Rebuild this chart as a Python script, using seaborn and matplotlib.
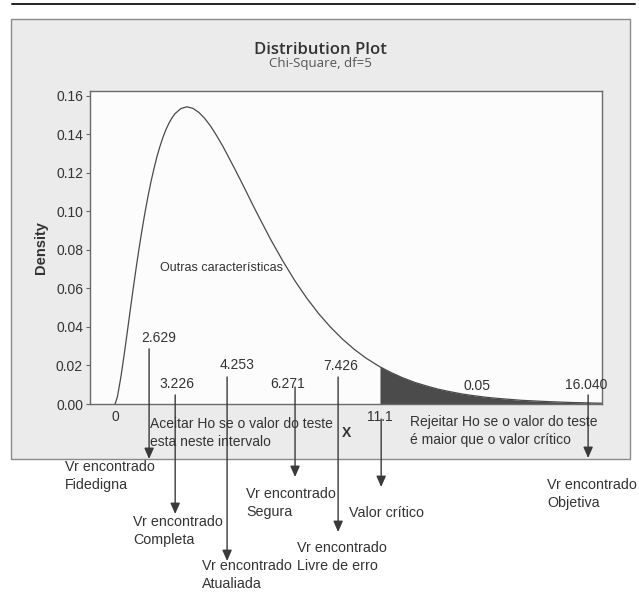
import matplotlib
matplotlib.use('Agg')
import matplotlib.pyplot as plt
import pandas as pd
import seaborn as sns
from matplotlib.patches import Rectangle
from matplotlib.lines import Line2D

# Chi-square (df=5) density
chi_x = [0, 0.1, 0.25, 0.4, 0.5, 0.6, 0.75, 0.9, 1, 1.125, 1.25, 1.375, 1.5, 1.625, 1.75,
         1.875, 2, 2.125, 2.25, 2.375, 2.5, 2.75, 3, 3.25, 3.5, 3.75, 4, 4.25, 4.5, 5,
         5.25, 5.5, 5.75, 6, 6.5, 7, 7.5, 8, 8.5, 9, 9.5, 10, 10.5, 11, 11.07, 11.5, 12,
         12.5, 13, 13.5, 14, 14.5, 15, 15.5, 16, 17, 18, 19, 20, 20.35]
density = [0, 0.0040, 0.0147, 0.0275, 0.0366, 0.0458, 0.0594, 0.0724, 0.0807, 0.0904,
           0.0995, 0.1078, 0.1154, 0.1222, 0.1284, 0.1337, 0.1384, 0.1424, 0.1457, 0.1484,
           0.1506, 0.1533, 0.1542, 0.1534, 0.1513, 0.1481, 0.1440, 0.1391, 0.1338, 0.1220,
           0.1159, 0.1097, 0.1034, 0.0973, 0.0854, 0.0744, 0.0642, 0.0551, 0.0470, 0.0399,
           0.0337, 0.0283, 0.0237, 0.0198, 0.0193, 0.0165, 0.0137, 0.0113, 0.0094, 0.0077,
           0.0064, 0.0052, 0.0043, 0.0035, 0.0029, 0.0019, 0.0013, 0.0008, 0.0005, 0.0004]
critical = 11.07
alpha_label = '0.05'

# markers: value label, x position of the marker line, top of the line, caption below
marker_labels = ['2.629', '3.226', '4.253', '6.271', '7.426', '11.1', '16.040']
marker_x = [1.42, 2.51, 4.68, 7.52, 9.32, 11.12, 19.77]
marker_top = [0.0286, 0.0047, 0.0140, 0.0088, 0.0140, -0.0078, 0.0047]
captions = ['Vr encontrado\nFidedigna', 'Vr encontrado\nCompleta', 'Vr encontrado\nAtualiada',
            'Vr encontrado\nSegura', 'Vr encontrado\nLivre de erro', 'Valor crítico',
            'Vr encontrado\nObjetiva']

df = pd.DataFrame({'x': chi_x, 'density': density})

W, H = 639, 609
def fx(px):
    return px / W
def fy(py):
    return 1 - py / H

sns.set_style('white')
plt.rcParams['font.family'] = ['Liberation Sans', 'DejaVu Sans']
txt = '#333333'

fig = plt.figure(figsize=(6.39, 6.09), dpi=100)
fig.patch.set_facecolor('white')

# grey panel + top rule
fig.patches.append(Rectangle((fx(11), fy(459)), fx(630) - fx(11), fy(19) - fy(459),
                             transform=fig.transFigure, facecolor='#ebebeb',
                             edgecolor='#8a8a8a', lw=1, zorder=-5))
fig.lines.append(Line2D([fx(12), fx(635)], [fy(4), fy(4)], transform=fig.transFigure,
                        color='#222222', lw=1.4, zorder=-5))

ax = fig.add_axes([fx(90), fy(404), fx(602) - fx(90), fy(91) - fy(404)])
ax.set_facecolor('#fcfcfc')

sns.lineplot(data=df, x='x', y='density', color='#4a4a4a', linewidth=0.9, ax=ax)
tail = df[df['x'] >= critical]
ax.fill_between(tail['x'], tail['density'], color='#4b4b4b', lw=0)

ax.set_xlim(-1.05, 20.35)
ax.set_ylim(0, 0.1624)
ax.set_yticks([0, 0.02, 0.04, 0.06, 0.08, 0.10, 0.12, 0.14, 0.16])
ax.set_yticklabels(['0.00', '0.02', '0.04', '0.06', '0.08', '0.10', '0.12', '0.14', '0.16'])
ax.set_xticks([0, critical])
ax.set_xticklabels(['0', '11.1'])
ax.tick_params(axis='y', length=3, width=0.8, color='#666666', pad=2,
               labelsize=10, labelcolor=txt, left=True)
ax.tick_params(axis='x', length=0, pad=4, labelsize=10, labelcolor=txt)
for s in ax.spines.values():
    s.set_color('#6a6a6a')
    s.set_linewidth(1)
ax.set_xlabel('X', fontsize=10, fontweight='bold', color=txt, labelpad=2)
ax.set_ylabel('Density', fontsize=10.5, fontweight='bold', color=txt, labelpad=6)

fig.text(fx(320), fy(50), 'Distribution Plot', ha='center', va='center',
         fontsize=12, fontweight='semibold', color='#333333', family=['Open Sans'])
fig.text(fx(320), fy(63), 'Chi-Square, df=5', ha='center', va='center',
         fontsize=9.5, color='#555555', family=['Open Sans'])

# value labels inside the plot
label_pos = [(1.84, 0.0343), (2.59, 0.0104), (5.10, 0.0203), (7.23, 0.0104),
             (9.44, 0.0197), None, (19.67, 0.0099)]
for lab, pos in zip(marker_labels, label_pos):
    if pos is not None:
        ax.text(pos[0], pos[1], lab, ha='center', va='center', fontsize=10, color=txt)
ax.text(15.12, 0.0094, alpha_label, ha='center', va='center', fontsize=10, color=txt)
ax.text(1.88, 0.0707, 'Outras características', ha='left', va='center', fontsize=9, color=txt)

# arrows down to captions
tips = [459, 514, 561, 477, 532, 487, 458]
cap_pos = [(65, 476), (133, 531), (202, 575), (246, 503), (297, 557), (349, 513), (547, 494)]
for mx, top, tip, cap, cp in zip(marker_x, marker_top, tips, captions, cap_pos):
    ax.annotate('', xy=(mx, fy(tip)), xycoords=('data', 'figure fraction'),
                xytext=(mx, top), textcoords='data', annotation_clip=False,
                arrowprops=dict(arrowstyle='-|>,head_length=0.5,head_width=0.22',
                                mutation_scale=13, color='#3a3a3a', lw=1,
                                shrinkA=0, shrinkB=0))
    fig.text(fx(cp[0]), fy(cp[1]), cap, ha='left', va='center', fontsize=10.3,
             color=txt, linespacing=1.4)

fig.text(fx(150), fy(433), 'Aceitar Ho se o valor do teste\nesta neste intervalo',
         ha='left', va='center', fontsize=10, color=txt, linespacing=1.45)
fig.text(fx(410), fy(431), 'Rejeitar Ho se o valor do teste\né maior que o valor crítico',
         ha='left', va='center', fontsize=10, color=txt, linespacing=1.45)

fig.savefig('out.png', dpi=100)
